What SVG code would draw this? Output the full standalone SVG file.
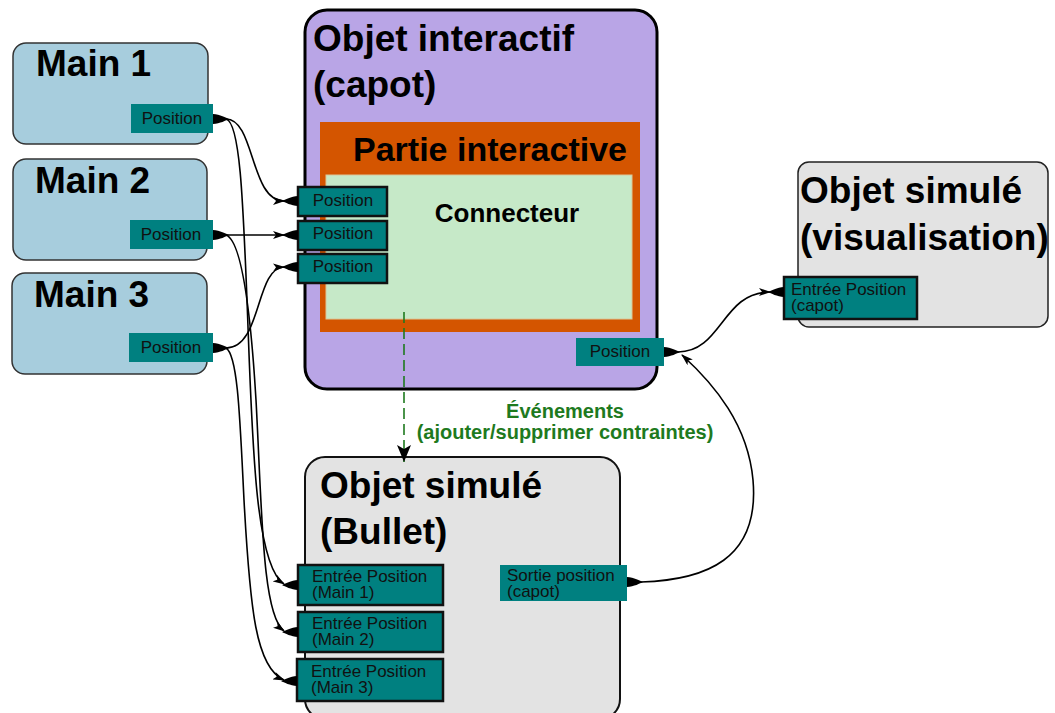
<svg xmlns="http://www.w3.org/2000/svg" width="1055" height="713" viewBox="0 0 1055 713">
<defs>
<style>
.main{fill:#a7cddd;stroke:#333;stroke-width:1.5}
.gray{fill:#e3e3e3;stroke:#111;stroke-width:2}
.port{fill:#008080}
.sport{fill:#008080;stroke:#111;stroke-width:2.5}
.title{font-family:"Liberation Sans",Arial,sans-serif;font-weight:bold;font-size:37px;fill:#000}
.ptxt{font-family:"Liberation Sans",Arial,sans-serif;font-size:17px;fill:#111}
.conn{fill:none;stroke:#000;stroke-width:1.6;marker-end:url(#arr)}
.blob{fill:#000}
</style>
<marker id="arr" viewBox="0 0 12 8" refX="11" refY="4" markerWidth="12" markerHeight="8" markerUnits="userSpaceOnUse" orient="auto">
<path d="M0,0 L12,4 L0,8 L3,4 Z" fill="#000"/>
</marker>
<marker id="arrD" viewBox="0 0 14 18" refX="7" refY="17" markerWidth="14" markerHeight="18" markerUnits="userSpaceOnUse" orient="0">
<path d="M0,0 L7,17 L14,0 L7,4 Z" fill="#000"/>
</marker>
<path id="blob" d="M0,-5 C7,-4.5 13,-1.5 16,0 C13,1.5 7,4.5 0,5 Z"/>
</defs>

<g id="main1">
<rect class="main" x="13" y="43" width="195" height="101" rx="13"/>
<text class="title" x="36" y="76">Main 1</text>
<rect class="port" x="131" y="104" width="82" height="29"/>
<text class="ptxt" x="172" y="124" text-anchor="middle">Position</text>
</g>
<g id="main2">
<rect class="main" x="13" y="159" width="194" height="101" rx="13"/>
<text class="title" x="35" y="193">Main 2</text>
<rect class="port" x="130" y="220" width="83" height="29"/>
<text class="ptxt" x="171" y="240" text-anchor="middle">Position</text>
</g>
<g id="main3">
<rect class="main" x="12" y="273" width="195" height="101" rx="13"/>
<text class="title" x="34" y="307">Main 3</text>
<rect class="port" x="129" y="333" width="84" height="29"/>
<text class="ptxt" x="171" y="353" text-anchor="middle">Position</text>
</g>

<g id="objet-interactif">
<rect x="305" y="10" width="352" height="379" rx="22" fill="#b9a5e6" stroke="#000" stroke-width="3"/>
<text class="title" x="313" y="51">Objet interactif<tspan x="313" y="97">(capot)</tspan></text>
<rect class="port" x="576" y="338" width="88" height="28"/>
<text class="ptxt" x="620" y="357" text-anchor="middle">Position</text>
</g>
<g id="partie-interactive">
<rect x="320" y="122" width="320" height="210" fill="#d45500"/>
<text x="353" y="161" style="font-family:'Liberation Sans',Arial,sans-serif;font-weight:bold;font-size:34px">Partie interactive</text>
</g>
<g id="connecteur">
<rect x="326" y="175" width="306" height="144" fill="#c6e9c8" stroke="#d9c79a" stroke-width="1"/>
<text x="507" y="222" text-anchor="middle" style="font-family:'Liberation Sans',Arial,sans-serif;font-weight:bold;font-size:26px">Connecteur</text>
<rect class="sport" x="298" y="187" width="89" height="29"/>
<text class="ptxt" x="343" y="206" text-anchor="middle">Position</text>
<rect class="sport" x="298" y="221" width="89" height="29"/>
<text class="ptxt" x="343" y="239" text-anchor="middle">Position</text>
<rect class="sport" x="298" y="254" width="89" height="29"/>
<text class="ptxt" x="343" y="272" text-anchor="middle">Position</text>
</g>

<g id="objet-simule-bullet">
<rect class="gray" x="305" y="457" width="315" height="262" rx="20"/>
<text class="title" x="320" y="498">Objet simulé<tspan x="320" y="544">(Bullet)</tspan></text>
<rect class="sport" x="298" y="565" width="145" height="40"/>
<text class="ptxt" x="312" y="582">Entrée Position<tspan x="312" y="598">(Main 1)</tspan></text>
<rect class="sport" x="298" y="612" width="145" height="40"/>
<text class="ptxt" x="312" y="629">Entrée Position<tspan x="312" y="645">(Main 2)</tspan></text>
<rect class="sport" x="297" y="659" width="146" height="42"/>
<text class="ptxt" x="311" y="677">Entrée Position<tspan x="311" y="693">(Main 3)</tspan></text>
<rect class="port" x="500" y="565" width="127" height="36"/>
<text class="ptxt" x="507" y="581">Sortie position<tspan x="507" y="597">(capot)</tspan></text>
</g>

<g id="objet-simule-visualisation">
<rect x="798" y="162" width="250" height="165" rx="11" fill="#e3e3e3" stroke="#222" stroke-width="1.5"/>
<text class="title" x="800" y="203">Objet simulé<tspan x="800" y="250">(visualisation)</tspan></text>
<rect class="sport" x="784" y="277" width="133" height="42"/>
<text class="ptxt" x="791" y="295">Entrée Position<tspan x="791" y="311">(capot)</tspan></text>
</g>

<g id="connectors">
<use href="#blob" class="blob" transform="translate(213,119)"/>
<use href="#blob" class="blob" transform="translate(213,235)"/>
<use href="#blob" class="blob" transform="translate(213,348)"/>
<use href="#blob" class="blob" transform="translate(298,201) scale(-1,1)"/>
<use href="#blob" class="blob" transform="translate(298,235) scale(-1,1)"/>
<use href="#blob" class="blob" transform="translate(298,267) scale(-1,1)"/>
<use href="#blob" class="blob" transform="translate(298,585) scale(-1,1)"/>
<use href="#blob" class="blob" transform="translate(298,632) scale(-1,1)"/>
<use href="#blob" class="blob" transform="translate(297,681) scale(-1,1)"/>
<use href="#blob" class="blob" transform="translate(664,352)"/>
<use href="#blob" class="blob" transform="translate(627,582)"/>
<use href="#blob" class="blob" transform="translate(784,292) scale(-1,1)"/>

<path class="conn" d="M226,119 C255,119 250,201 284,201"/>
<path class="conn" d="M226,119 C240,122 243,200 247,300 C252,430 254,565 284,584"/>
<path class="conn" d="M226,235 L284,235"/>
<path class="conn" d="M226,235 C240,240 250,300 256,400 C262,510 262,615 284,631"/>
<path class="conn" d="M226,348 C262,348 255,268 284,267"/>
<path class="conn" d="M226,348 C238,355 240,420 244,500 C250,610 256,668 284,680"/>
<path class="conn" d="M678,352 C722,352 722,292 770,292"/>
<path class="conn" d="M641,582 C705,580 760,560 753,480 C748,425 715,385 682,355"/>

<path d="M404,312 L404,462" fill="none" stroke="#1e7a1e" stroke-width="1.6" stroke-dasharray="11,5" marker-end="url(#arrD)"/>
<text x="565" y="418" text-anchor="middle" style="font-family:'Liberation Sans',Arial,sans-serif;font-weight:bold;font-size:20px;fill:#1e7a1e">Événements<tspan x="565" y="439">(ajouter/supprimer contraintes)</tspan></text>
</g>
</svg>
